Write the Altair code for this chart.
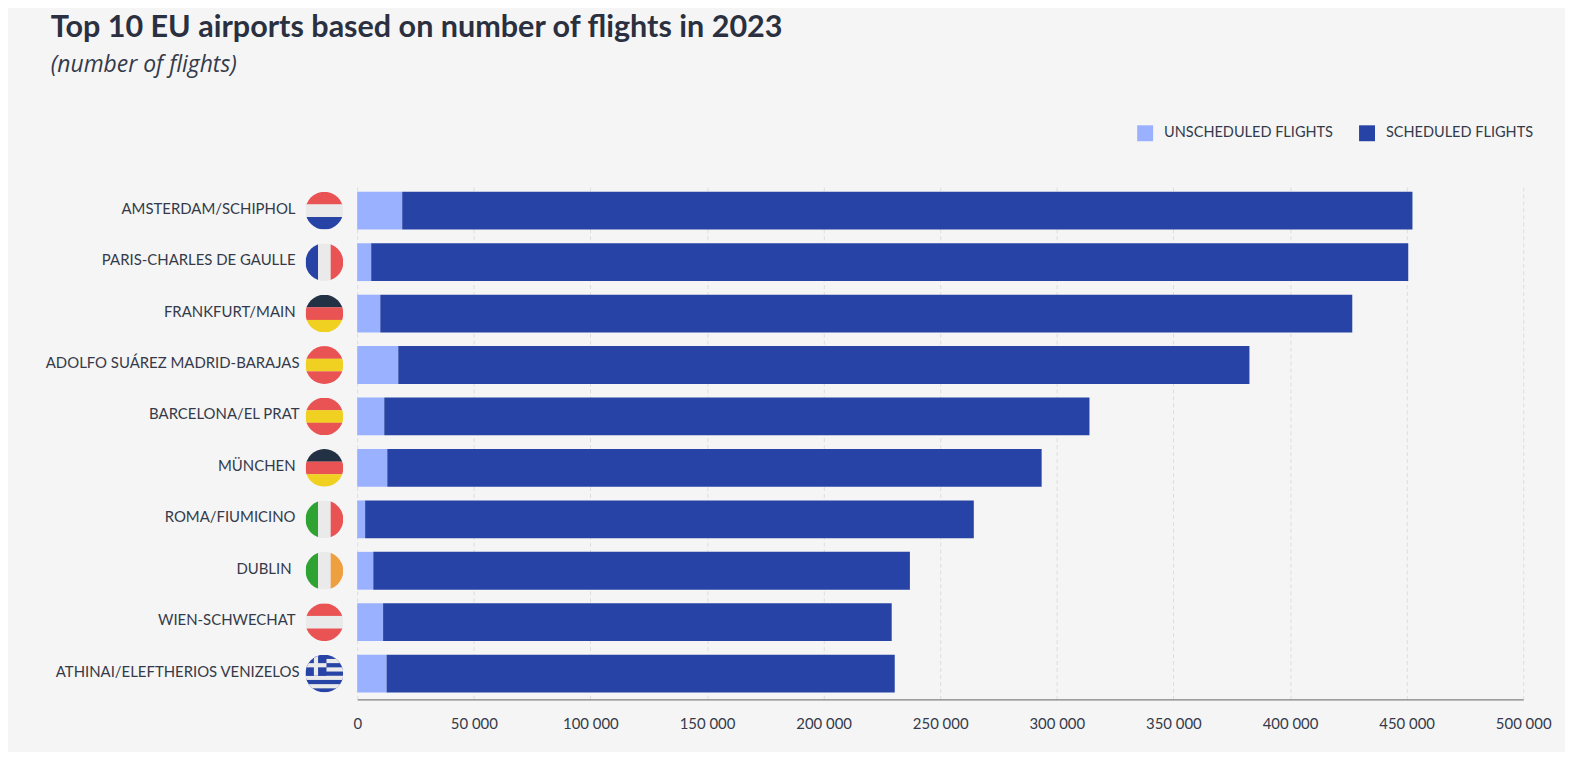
import urllib.parse
import altair as alt
import pandas as pd

airports = ["AMSTERDAM/SCHIPHOL", "PARIS-CHARLES DE GAULLE", "FRANKFURT/MAIN",
            "ADOLFO SUÁREZ MADRID-BARAJAS", "BARCELONA/EL PRAT", "MÜNCHEN",
            "ROMA/FIUMICINO", "DUBLIN", "WIEN-SCHWECHAT", "ATHINAI/ELEFTHERIOS VENIZELOS"]
countries = ["NL", "FR", "DE", "ES", "ES", "DE", "IT", "IE", "AT", "GR"]
unscheduled = [19300, 6000, 9900, 17600, 11600, 12900, 3400, 6900, 11100, 12600]
totals = [452500, 450700, 426700, 382600, 314000, 293500, 264400, 237000, 229200, 230500]
scheduled = [t - u for t, u in zip(totals, unscheduled)]
x_ticks = [0, 50000, 100000, 150000, 200000, 250000, 300000, 350000, 400000, 450000, 500000]

RED, WHITE, BLUE, DARK, YELLOW, GREEN, ORANGE = ("#e95353", "#eaeaea", "#2743a5", "#233144",
                                                 "#f0d020", "#2fa332", "#eea041")
TEXT = "#343a4a"
NARROW = "Lato"
S_UN, S_SC = "UNSCHEDULED FLIGHTS", "SCHEDULED FLIGHTS"


def hstripes(cols, w=(1, 1, 1)):
    y, out, tot = 0, "", sum(w)
    for c, h in zip(cols, w):
        out += f'<rect x="0" y="{y*30/tot}" width="30" height="{h*30/tot+0.1}" fill="{c}"/>'
        y += h
    return out


def vstripes(cols):
    return "".join(f'<rect x="{i*10}" y="0" width="10.1" height="30" fill="{c}"/>' for i, c in enumerate(cols))


def greece():
    out = f'<rect width="30" height="30" fill="{BLUE}"/>'
    for i in range(1, 9, 2):
        out += f'<rect x="0" y="{i*30/9}" width="30" height="{30/9}" fill="{WHITE}"/>'
    out += f'<rect width="{50/3}" height="{50/3}" fill="{BLUE}"/>'
    out += f'<rect x="{20/3}" width="{10/3}" height="{50/3}" fill="{WHITE}"/>'
    out += f'<rect y="{20/3}" width="{50/3}" height="{10/3}" fill="{WHITE}"/>'
    return out


flag_art = {
    "NL": hstripes([RED, WHITE, BLUE]),
    "FR": vstripes([BLUE, WHITE, RED]),
    "DE": hstripes([DARK, RED, YELLOW]),
    "ES": hstripes([RED, YELLOW, RED]),
    "IT": vstripes([GREEN, WHITE, RED]),
    "IE": vstripes([GREEN, WHITE, ORANGE]),
    "AT": hstripes([RED, WHITE, RED]),
    "GR": greece(),
}


def flag_url(code):
    svg = ('<svg xmlns="http://www.w3.org/2000/svg" width="30" height="30" viewBox="0 0 30 30">'
           '<clipPath id="c"><circle cx="15" cy="15" r="15"/></clipPath>'
           f'<g clip-path="url(#c)">{flag_art[code]}</g></svg>')
    return "data:image/svg+xml;charset=utf-8," + urllib.parse.quote(svg)


base = pd.DataFrame({"airport": airports, "flag": [flag_url(c) for c in countries]})
long = pd.DataFrame({
    "airport": airports * 2,
    "series": [S_UN] * 10 + [S_SC] * 10,
    "rank": [0] * 10 + [1] * 10,
    "flights": unscheduled + scheduled,
})

y_scale = alt.Scale(domain=airports, paddingInner=0.265, paddingOuter=0.1325)
y_enc = alt.Y("airport:N", sort=airports, scale=y_scale,
              axis=alt.Axis(title=None, labels=False, ticks=False, domain=True,
                            domainColor="#808080", domainWidth=1.2, grid=False))

bars = alt.Chart(long).mark_bar().encode(
    x=alt.X("flights:Q", stack="zero", scale=alt.Scale(domain=[0, 500000], nice=False),
            axis=alt.Axis(title=None, values=x_ticks, ticks=False, domainColor="#808080", domainWidth=1.2,
                          grid=True, gridColor="#dddddd", gridDash=[4, 3], gridWidth=1,
                          labelFont=NARROW, labelFontSize=15, labelColor=TEXT, labelPadding=17,
                          labelFlush=False, labelBound=False, labelOverlap=False,
                          labelExpr="replace(format(datum.value, ','), ',', ' ')")),
    y=y_enc,
    color=alt.Color("series:N", scale=alt.Scale(domain=[S_UN, S_SC], range=["#99b1ff", "#2743a5"]),
                    legend=alt.Legend(title=None, orient="none", legendX=784, legendY=-60,
                                      direction="horizontal", symbolType="square", symbolSize=256,
                                      symbolStrokeWidth=0, labelFont=NARROW, labelFontSize=14.6,
                                      labelColor=TEXT, labelOffset=11, columnPadding=26,
                                      labelLimit=300)),
    order=alt.Order("rank:Q"),
)

flags = alt.Chart(base).mark_image(width=38, height=38).encode(
    x=alt.value(-33), y=alt.Y("airport:N", sort=airports, scale=y_scale, axis=None),
    url="flag:N",
)

# The source's labels do not share one right edge: three groups of them.
label_groups = [
    (-62, ["AMSTERDAM/SCHIPHOL", "PARIS-CHARLES DE GAULLE", "FRANKFURT/MAIN", "MÜNCHEN",
           "ROMA/FIUMICINO", "WIEN-SCHWECHAT"]),
    (-58, ["ADOLFO SUÁREZ MADRID-BARAJAS", "BARCELONA/EL PRAT", "ATHINAI/ELEFTHERIOS VENIZELOS"]),
    (-66, ["DUBLIN"]),
]
labels = [
    alt.Chart(base[base.airport.isin(names)]).mark_text(
        align="right", baseline="middle", font=NARROW, fontSize=15, color=TEXT, dy=-2
    ).encode(x=alt.value(px), y=alt.Y("airport:N", sort=airports, scale=y_scale, axis=None),
             text="airport:N")
    for px, names in label_groups
]

chart = alt.layer(bars, flags, *labels).properties(
    width=1172, height=517,
    background="#f5f5f5",
    padding={"left": 351, "top": 176, "right": 42, "bottom": 51},
    autosize=alt.AutoSizeParams(type="none"),
    title=alt.TitleParams(
        text="Top 10 EU airports based on number of flights in 2023",
        subtitle="(number of flights)",
        anchor="start", frame="group", dx=-308, offset=48,
        font=NARROW, fontSize=30.7, fontWeight="bold", color="#2b3040",
        subtitleFont="Open Sans", subtitleFontStyle="italic", subtitleFontSize=23,
        subtitleColor=TEXT, subtitlePadding=10,
    ),
).configure_view(stroke=None)

chart.save("out.html", embed_options={"renderer": "svg", "actions": False})
